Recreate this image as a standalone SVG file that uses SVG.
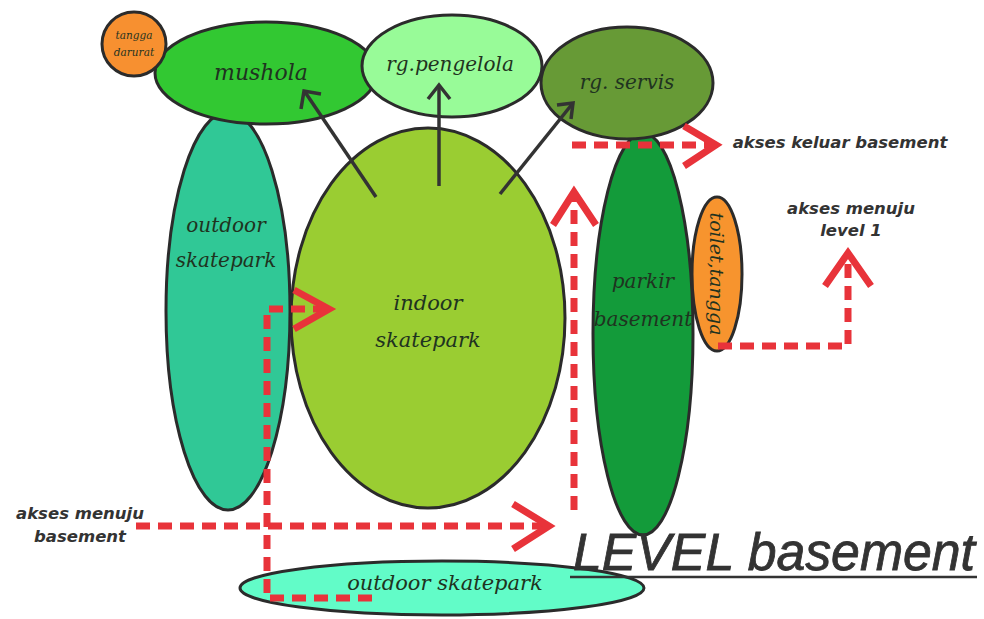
<svg xmlns="http://www.w3.org/2000/svg" width="984" height="619" viewBox="0 0 984 619">
<defs>
<style>
.n{stroke:#2b2b2b;stroke-width:3}
.s{font-family:"DejaVu Serif","Liberation Serif",serif;font-style:italic;fill:#1f3320;text-anchor:middle}
.g{font-family:"DejaVu Sans","Liberation Sans",sans-serif;font-style:italic;font-weight:bold;fill:#333;text-anchor:middle}
.r{fill:none;stroke:#e8333a;stroke-width:7;stroke-dasharray:14 8}
.h{fill:none;stroke:#e8333a;stroke-width:7;stroke-linejoin:miter}
.a{fill:none;stroke:#333;stroke-width:3.5}
</style>
</defs>
<rect width="984" height="619" fill="#fff"/>
<g id="outdoor-skatepark-v"><ellipse class="n" cx="228" cy="311" rx="62" ry="199" fill="#30c896"/>
<text class="s" x="226" y="232" font-size="20">outdoor</text><text class="s" x="226" y="267" font-size="20">skatepark</text></g>
<g id="indoor-skatepark"><ellipse class="n" cx="428" cy="318" rx="137" ry="190" fill="#9acd32"/>
<text class="s" x="428" y="310" font-size="21">indoor</text><text class="s" x="428" y="347" font-size="21">skatepark</text></g>
<g id="parkir-basement"><ellipse class="n" cx="643" cy="334" rx="50" ry="201" fill="#139b3a"/>
<text class="s" x="643" y="288" font-size="20">parkir</text><text class="s" x="643" y="326" font-size="20">basement</text></g>
<g id="mushola"><ellipse class="n" cx="266" cy="73" rx="111" ry="51" fill="#32c832"/>
<text class="s" x="261" y="80" font-size="22">mushola</text></g>
<g id="tangga-darurat"><circle class="n" cx="134" cy="44" r="32" fill="#f79030"/>
<text class="s" x="134" y="39" font-size="10.5">tangga</text><text class="s" x="134" y="56" font-size="10.5">darurat</text></g>
<g id="rg-pengelola"><ellipse class="n" cx="452" cy="66" rx="90" ry="51" fill="#98fb98"/>
<text class="s" x="450" y="71" font-size="20">rg.pengelola</text></g>
<g id="rg-servis"><ellipse class="n" cx="627" cy="83" rx="86" ry="56" fill="#679a36"/>
<text class="s" x="627" y="89" font-size="20">rg. servis</text></g>
<g id="toilet-tangga"><ellipse class="n" cx="717" cy="274" rx="25" ry="77" fill="#f7942e"/>
<text class="s" font-size="19" transform="translate(710 274) rotate(90)" x="0" y="0">toilet,tangga</text></g>
<g id="outdoor-skatepark-bottom"><ellipse class="n" cx="442" cy="588" rx="202" ry="27" fill="#62fcc8"/>
<text class="s" x="445" y="590" font-size="21">outdoor skatepark</text></g>
<g id="connectors">
<line class="a" x1="376" y1="197" x2="305" y2="92"/><polyline class="a" points="301,109 304,91 321,94"/>
<line class="a" x1="439" y1="186" x2="439" y2="85"/><polyline class="a" points="428,99 439,85 450,99"/>
<line class="a" x1="500" y1="194" x2="573" y2="103"/><polyline class="a" points="557,105 573,103 571,119"/>
<polyline class="r" points="136,526 548,526"/><polyline class="h" points="513,504 549,526 513,549"/>
<polyline class="r" points="372,598 267,598 267,309 323,309"/><polyline class="h" points="294,290 329,309 294,329"/>
<polyline class="r" points="574,510 574,196"/><polyline class="h" points="553,225 574,192 596,225"/>
<polyline class="r" points="572,145 712,145"/><polyline class="h" points="684,126 716,145 684,166"/>
<polyline class="r" points="718,346 848,346 848,258"/><polyline class="h" points="825,286 848,253 871,286"/>
</g>
<g id="labels">
<text class="g" x="840" y="148" font-size="16.5">akses keluar basement</text>
<text class="g" x="851" y="214" font-size="16.5">akses menuju</text><text class="g" x="851" y="236" font-size="16.5">level 1</text>
<text class="g" x="80" y="519" font-size="16.5">akses menuju</text><text class="g" x="80" y="542" font-size="16.5">basement</text>
<text x="573" y="570" font-family="Liberation Sans, DejaVu Sans, sans-serif" font-style="italic" font-size="51" fill="#333" stroke="#333" stroke-width="0.8" textLength="402" lengthAdjust="spacingAndGlyphs">LEVEL basement</text>
<line x1="570" y1="577" x2="977" y2="577" stroke="#333" stroke-width="2.5"/>
</g>
</svg>
